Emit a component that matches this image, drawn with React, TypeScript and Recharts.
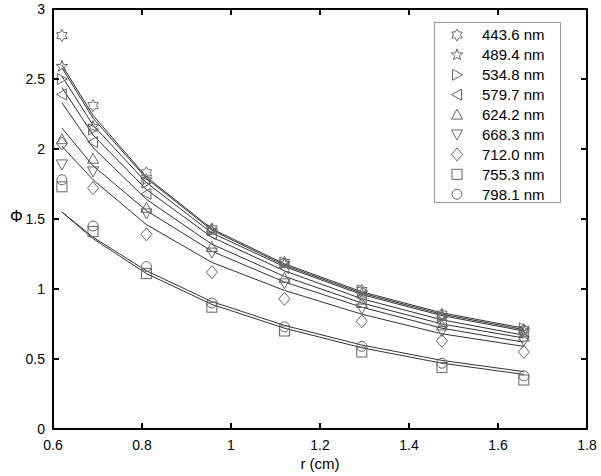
import { ComposedChart, Line, XAxis, YAxis } from 'recharts';

// source-detector distances (cm)
const radii = [0.62, 0.69, 0.81, 0.957, 1.12, 1.294, 1.474, 1.658];

const wavelengths = ['443.6 nm', '489.4 nm', '534.8 nm', '579.7 nm', '624.2 nm', '668.3 nm', '712.0 nm', '755.3 nm', '798.1 nm'];
const shapes = ['hexagram', 'pentagram', 'right', 'left', 'up', 'down', 'diamond', 'square', 'circle'];

// measured values
const phi4436 = [2.81, 2.31, 1.83, 1.43, 1.19, 0.99, 0.82, 0.71];
const phi4894 = [2.59, 2.16, 1.78, 1.42, 1.18, 0.97, 0.81, 0.7];
const phi5348 = [2.5, 2.14, 1.76, 1.42, 1.19, 0.99, 0.8, 0.72];
const phi5797 = [2.39, 2.05, 1.68, 1.39, 1.15, 0.94, 0.76, 0.68];
const phi6242 = [2.07, 1.93, 1.58, 1.3, 1.08, 0.9, 0.74, 0.66];
const phi6683 = [1.89, 1.84, 1.54, 1.26, 1.04, 0.86, 0.7, 0.63];
const phi7120 = [2.04, 1.72, 1.39, 1.12, 0.93, 0.77, 0.63, 0.55];
const phi7553 = [1.73, 1.41, 1.11, 0.87, 0.7, 0.55, 0.44, 0.35];
const phi7981 = [1.78, 1.45, 1.16, 0.9, 0.73, 0.59, 0.47, 0.38];

// fitted curves
const fit4436 = [2.6, 2.24, 1.8, 1.43, 1.18, 0.98, 0.83, 0.72];
const fit4894 = [2.58, 2.22, 1.79, 1.42, 1.17, 0.97, 0.82, 0.71];
const fit5348 = [2.52, 2.17, 1.76, 1.4, 1.16, 0.96, 0.81, 0.7];
const fit5797 = [2.44, 2.1, 1.71, 1.37, 1.13, 0.93, 0.78, 0.67];
const fit6242 = [2.33, 2.01, 1.64, 1.32, 1.09, 0.9, 0.75, 0.65];
const fit6683 = [2.15, 1.88, 1.56, 1.27, 1.05, 0.87, 0.72, 0.62];
const fit7120 = [2.02, 1.78, 1.46, 1.19, 0.99, 0.82, 0.68, 0.59];
const fit7553 = [1.55, 1.36, 1.11, 0.89, 0.72, 0.58, 0.47, 0.39];
const fit7981 = [1.55, 1.37, 1.13, 0.91, 0.74, 0.6, 0.49, 0.41];

const xTicks = [0.6, 0.8, 1, 1.2, 1.4, 1.6, 1.8];
const yTicks = [0, 0.5, 1, 1.5, 2, 2.5, 3];

const measured = [phi4436, phi4894, phi5348, phi5797, phi6242, phi6683, phi7120, phi7553, phi7981];
const fitted = [fit4436, fit4894, fit5348, fit5797, fit6242, fit6683, fit7120, fit7553, fit7981];

const data = radii.map((r, i) => {
  const row: Record<string, number> = { r };
  measured.forEach((s, k) => (row[`m${k}`] = s[i]));
  fitted.forEach((s, k) => (row[`f${k}`] = s[i]));
  return row;
});

const X0 = 0.6;
const X1 = 1.8;
const Y0 = 0;
const Y1 = 3;

// plot box in pixels (follows from the chart margins and axis sizes below)
const BOX = { left: 53, top: 9, right: 587, bottom: 429 };
const TICK = 6;

const FONT = '"Liberation Sans", Arial, sans-serif';
const MARKER = '#666';

function starPoints(cx: number, cy: number, n: number, outer: number, inner: number) {
  const pts: string[] = [];
  for (let i = 0; i < n * 2; i++) {
    const rad = i % 2 === 0 ? outer : inner;
    const a = -Math.PI / 2 + (i * Math.PI) / n;
    pts.push(`${cx + rad * Math.cos(a)},${cy + rad * Math.sin(a)}`);
  }
  return pts.join(' ');
}

function Marker({ kind, cx, cy }: { kind: string; cx: number; cy: number }) {
  const p = { fill: 'none', stroke: MARKER, strokeWidth: 1 };
  switch (kind) {
    case 'hexagram':
      return <polygon points={starPoints(cx, cy, 6, 6, 3.5)} {...p} />;
    case 'pentagram':
      return <polygon points={starPoints(cx, cy, 5, 6, 2.5)} {...p} />;
    case 'right':
      return <polygon points={`${cx + 5.5},${cy} ${cx - 4.5},${cy - 5.5} ${cx - 4.5},${cy + 5.5}`} {...p} />;
    case 'left':
      return <polygon points={`${cx - 5.5},${cy} ${cx + 4.5},${cy - 5.5} ${cx + 4.5},${cy + 5.5}`} {...p} />;
    case 'up':
      return <polygon points={`${cx},${cy - 5.5} ${cx + 5.5},${cy + 4.5} ${cx - 5.5},${cy + 4.5}`} {...p} />;
    case 'down':
      return <polygon points={`${cx},${cy + 5.5} ${cx + 5.5},${cy - 4.5} ${cx - 5.5},${cy - 4.5}`} {...p} />;
    case 'diamond':
      return <polygon points={`${cx},${cy - 6.5} ${cx + 5.5},${cy} ${cx},${cy + 6.5} ${cx - 5.5},${cy}`} {...p} />;
    case 'square':
      return <rect x={cx - 5} y={cy - 5} width={10} height={10} {...p} />;
    default:
      return <circle cx={cx} cy={cy} r={5} {...p} />;
  }
}

// frame with inward ticks drawn on top of the chart
function Frame() {
  const w = BOX.right - BOX.left;
  const h = BOX.bottom - BOX.top;
  const px = (t: number) => BOX.left + ((t - X0) / (X1 - X0)) * w;
  const py = (t: number) => BOX.bottom - ((t - Y0) / (Y1 - Y0)) * h;
  const s = { stroke: '#000', strokeWidth: 2 };
  return (
    <svg width={601} height={476} style={{ position: 'absolute', left: 0, top: 0, pointerEvents: 'none' }}>
      <rect x={BOX.left} y={BOX.top} width={w} height={h} fill="none" {...s} />
      {xTicks.map((t) => (
        <g key={`x${t}`}>
          <line x1={px(t)} x2={px(t)} y1={BOX.bottom} y2={BOX.bottom - TICK} {...s} />
          <line x1={px(t)} x2={px(t)} y1={BOX.top} y2={BOX.top + TICK} {...s} />
        </g>
      ))}
      {yTicks.map((t) => (
        <g key={`y${t}`}>
          <line x1={BOX.left} x2={BOX.left + TICK} y1={py(t)} y2={py(t)} {...s} />
          <line x1={BOX.right} x2={BOX.right - TICK} y1={py(t)} y2={py(t)} {...s} />
        </g>
      ))}
    </svg>
  );
}

function LegendBox() {
  return (
    <svg width={127} height={181} style={{ position: 'absolute', left: 434, top: 22 }}>
      <rect x={0.5} y={0.5} width={126} height={180} fill="#fff" stroke="#999" strokeWidth={1} />
      {wavelengths.map((w, i) => (
        <g key={w}>
          <Marker kind={shapes[i]} cx={23} cy={13 + i * 19.9} />
          <text x={48} y={13 + i * 19.9} dy="0.36em" fontSize={15} fontFamily={FONT} fill="#000">
            {w}
          </text>
        </g>
      ))}
    </svg>
  );
}

export default function App() {
  return (
    <div style={{ position: 'absolute', left: 0, top: 0, width: 601, height: 476, background: '#fff' }}>
      <ComposedChart width={601} height={476} data={data} margin={{ top: 9, right: 14, bottom: 17, left: 3 }}>
        <XAxis
          dataKey="r"
          type="number"
          domain={[X0, X1]}
          ticks={xTicks}
          height={30}
          axisLine={false}
          tickLine={false}
          tickSize={9}
          tick={{ fill: '#000', stroke: 'none', fontSize: 14, fontFamily: FONT }}
          label={{ value: 'r (cm)', position: 'insideBottom', offset: -10, fill: '#000', stroke: 'none', fontSize: 15, fontFamily: FONT }}
        />
        <YAxis
          type="number"
          domain={[Y0, Y1]}
          ticks={yTicks}
          width={50}
          axisLine={false}
          tickLine={false}
          tickSize={6}
          tick={{ fill: '#000', stroke: 'none', fontSize: 14, fontFamily: FONT }}
        />
        {fitted.map((_, k) => (
          <Line
            key={`f${k}`}
            type="linear"
            dataKey={`f${k}`}
            stroke="#333"
            strokeWidth={1}
            dot={false}
            activeDot={false}
            isAnimationActive={false}
          />
        ))}
        {measured.map((_, k) => (
          <Line
            key={`m${k}`}
            type="linear"
            dataKey={`m${k}`}
            stroke="none"
            dot={(p: any) => <Marker key={`mk${k}-${p.index}`} kind={shapes[k]} cx={p.cx} cy={p.cy} />}
            activeDot={false}
            isAnimationActive={false}
          />
        ))}
      </ComposedChart>
      <Frame />
      <div style={{ position: 'absolute', left: 10, top: 208, fontFamily: FONT, fontSize: 16, color: '#000' }}>
        Φ
      </div>
      <LegendBox />
    </div>
  );
}
